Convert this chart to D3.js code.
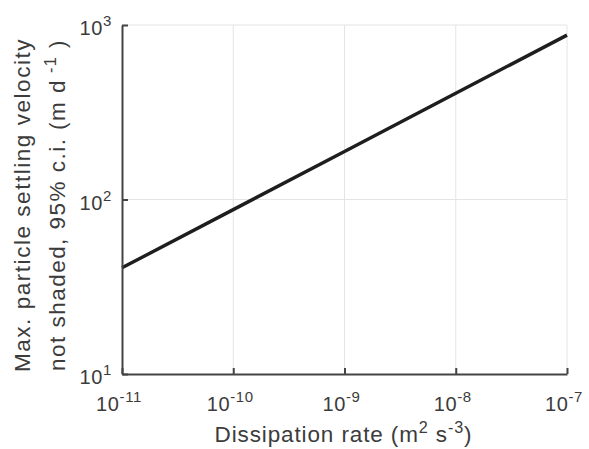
<!DOCTYPE html>
<html>
<head>
<meta charset="utf-8">
<script src="https://cdn.jsdelivr.net/npm/d3@7"></script>
<style>
  html, body { margin: 0; padding: 0; background: #fff; }
  svg { display: block; font-family: "Liberation Sans", Arial, Helvetica, sans-serif; }
</style>
</head>
<body>
<svg id="chart" width="589" height="449"></svg>
<script>
// Dissipation rate (m^2 s^-3) and the corresponding maximum settling velocity (m d^-1)
const dissipation = [1e-11, 1e-10, 1e-9, 1e-8, 1e-7];
const maxVelocity = [40.6, 87.5, 188.5, 406, 875];

// Decade tick positions and their exponents
const xTickValues = [1e-11, 1e-10, 1e-9, 1e-8, 1e-7];
const xTickExponents = ["-11", "-10", "-9", "-8", "-7"];
const yTickValues = [10, 100, 1000];
const yTickExponents = ["1", "2", "3"];

const xDomain = [1e-11, 1e-7];
const yDomain = [10, 1000];

const margin = { left: 122, right: 22, top: 25, bottom: 75 };
const width = 589, height = 449;
const axisColor = "#444444";
const textColor = "#3c3c3c";
const gridColor = "#e4e4e4";
const tickFont = 20;
const titleFont = 22.5;

const svg = d3.select("#chart");

const x = d3.scaleLog().domain(xDomain).range([margin.left, width - margin.right]);
const y = d3.scaleLog().domain(yDomain).range([height - margin.bottom, margin.top]);

// spread a text element's letters so it covers the given length
function fitWidth(sel, target) {
  const node = sel.node();
  const n = node.textContent.length;
  const w = node.getComputedTextLength();
  sel.attr("letter-spacing", Math.max(0, (target - w) / n).toFixed(2));
}

// grid lines at each decade
const grid = svg.append("g");
grid.selectAll("line.gx").data(xTickValues.slice(1)).join("line")
  .attr("x1", d => x(d)).attr("x2", d => x(d))
  .attr("y1", y.range()[0]).attr("y2", y.range()[1])
  .attr("stroke", gridColor).attr("stroke-width", 1);
grid.selectAll("line.gy").data(yTickValues.slice(1)).join("line")
  .attr("y1", d => y(d)).attr("y2", d => y(d))
  .attr("x1", x.range()[0]).attr("x2", x.range()[1])
  .attr("stroke", gridColor).attr("stroke-width", 1);

// the velocity curve
const line = d3.line().x((d, i) => x(dissipation[i])).y(d => y(d));
svg.append("path")
  .datum(maxVelocity)
  .attr("d", line)
  .attr("fill", "none")
  .attr("stroke", "#1e1e1e")
  .attr("stroke-width", 3.4);

// bottom axis, ticks pointing inward
const xAxis = d3.axisBottom(x).tickValues(xTickValues).tickSizeInner(-6).tickSizeOuter(0).tickFormat("");
const gx = svg.append("g").attr("transform", `translate(0,${y.range()[0]})`).call(xAxis);
gx.select(".domain").attr("stroke", axisColor).attr("stroke-width", 2);
gx.selectAll(".tick line").attr("stroke", axisColor).attr("stroke-width", 2);

// left axis, ticks pointing inward
const yAxis = d3.axisLeft(y).tickValues(yTickValues).tickSizeInner(-6).tickSizeOuter(0).tickFormat("");
const gy = svg.append("g").attr("transform", `translate(${x.range()[0]},0)`).call(yAxis);
gy.select(".domain").attr("stroke", axisColor).attr("stroke-width", 2);
gy.selectAll(".tick line").attr("stroke", axisColor).attr("stroke-width", 2);

// power-of-ten tick labels
function powerLabel(sel, exp) {
  sel.append("tspan").text("10");
  sel.append("tspan").attr("dy", -9).attr("font-size", tickFont * 0.75).text(exp);
}

svg.append("g").selectAll("text").data(xTickValues).join("text")
  .attr("x", d => x(d) - 3)
  .attr("y", y.range()[0] + 37)
  .attr("text-anchor", "middle")
  .attr("fill", textColor)
  .attr("font-size", tickFont)
  .attr("letter-spacing", 0.6)
  .each(function (d, i) { powerLabel(d3.select(this), xTickExponents[i]); });

svg.append("g").selectAll("text").data(yTickValues).join("text")
  .attr("x", x.range()[0] - 10)
  .attr("y", d => y(d) + 10)
  .attr("text-anchor", "end")
  .attr("fill", textColor)
  .attr("font-size", tickFont)
  .attr("letter-spacing", 0.6)
  .each(function (d, i) { powerLabel(d3.select(this), yTickExponents[i]); });

// x-axis title
const xt = svg.append("text")
  .attr("x", (x.range()[0] + x.range()[1]) / 2 - 1)
  .attr("y", 442)
  .attr("text-anchor", "middle")
  .attr("fill", textColor)
  .attr("font-size", titleFont);
xt.append("tspan").text("Dissipation rate (m");
xt.append("tspan").attr("dy", -9).attr("font-size", titleFont * 0.72).text("2");
xt.append("tspan").attr("dy", 9).text(" s");
xt.append("tspan").attr("dy", -9).attr("font-size", titleFont * 0.72).text("-3");
xt.append("tspan").attr("dy", 9).text(")");
fitWidth(xt, 258);

// y-axis title, two lines
const yMid = 205;
const yt1 = svg.append("text")
  .attr("transform", `translate(30,${yMid}) rotate(-90)`)
  .attr("text-anchor", "middle")
  .attr("fill", textColor)
  .attr("font-size", titleFont)
  .text("Max. particle settling velocity");
fitWidth(yt1, 334);
const yt2 = svg.append("text")
  .attr("transform", `translate(65,${yMid}) rotate(-90)`)
  .attr("text-anchor", "middle")
  .attr("fill", textColor)
  .attr("font-size", titleFont);
yt2.append("tspan").text("not shaded, 95% c.i. (m d");
yt2.append("tspan").attr("dy", -9).attr("font-size", titleFont * 0.72).text(" -1");
yt2.append("tspan").attr("dy", 9).text(" )");
fitWidth(yt2, 332);
</script>
</body>
</html>
